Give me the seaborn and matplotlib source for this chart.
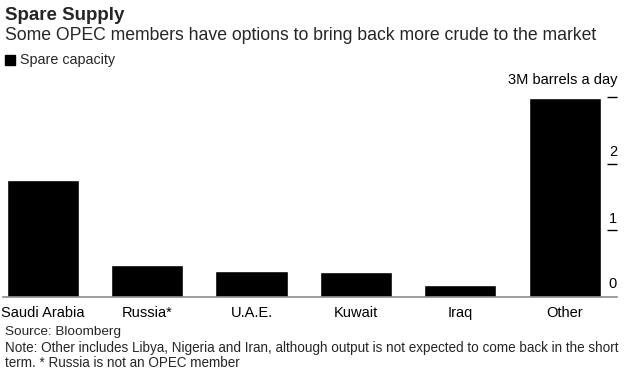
import matplotlib
matplotlib.use("Agg")
import matplotlib.pyplot as plt
from matplotlib.patches import Rectangle
import pandas as pd
import seaborn as sns

# data (million barrels a day)
countries = ["Saudi Arabia", "Russia*", "U.A.E.", "Kuwait", "Iraq", "Other"]
spare = [1.75, 0.48, 0.39, 0.37, 0.18, 2.99]
ytick_vals = [0, 1, 2, 3]
ytick_text = ["0", "1", "2", "3M barrels a day"]

df = pd.DataFrame({"country": countries, "spare": spare})

sns.set_theme(style="white")
plt.rcParams["font.family"] = ["Liberation Sans", "DejaVu Sans"]

fig = plt.figure(figsize=(6.33, 3.71), dpi=100)
W, H = 633, 371
ax = fig.add_axes([3 / W, 1 - 296.5 / H, (617 - 3) / W, (296.5 - 97) / H])

sns.barplot(data=df, x="country", y="spare", color="black", width=0.69,
            saturation=1, ax=ax)

ax.set_xlim(-0.38, 5.5)
ax.set_ylim(0, 3)
ax.set_xlabel("")
ax.set_ylabel("")
for s in ["top", "left", "right"]:
    ax.spines[s].set_visible(False)
ax.spines["bottom"].set_color("#8c8c8c")
ax.spines["bottom"].set_linewidth(1.2)

ax.tick_params(axis="x", length=0, pad=7, labelsize=10.5, colors="black")
ax.yaxis.tick_right()
ax.set_yticks(ytick_vals[1:])
ax.set_yticklabels([])
ax.tick_params(axis="y", direction="in", length=7, width=1, color="black", pad=0)

# value labels sit above their tick marks
for v, t in zip(ytick_vals, ytick_text):
    ax.annotate(t, xy=(1, v), xycoords=("axes fraction", "data"),
                xytext=(0, 7 if v == 3 else (3 if v else 4)), textcoords="offset points",
                ha="right", va="bottom", fontsize=10.5, color="black")

fig.text(5 / W, 1 - 15 / H, "Spare Supply", fontsize=13.5, fontweight="bold",
         va="center", ha="left")
fig.text(5 / W, 1 - 36 / H,
         "Some OPEC members have options to bring back more crude to the market",
         fontsize=12.7, va="center", ha="left")
fig.patches.append(Rectangle((5 / W, 1 - 65 / H), 10 / W, 10 / H,
                             transform=fig.transFigure, color="black"))
fig.text(20 / W, 1 - 60 / H, "Spare capacity", fontsize=10.3, va="center", ha="left")

fig.text(5 / W, 1 - 332 / H, "Source: Bloomberg", fontsize=9.7, va="center", ha="left")
fig.text(5 / W, 1 - 348 / H,
         "Note: Other includes Libya, Nigeria and Iran, although output is not expected to come back in the short",
         fontsize=9.75, va="center", ha="left")
fig.text(5 / W, 1 - 363 / H, "term. * Russia is not an OPEC member",
         fontsize=9.75, va="center", ha="left")

fig.savefig("out.png", dpi=100)
